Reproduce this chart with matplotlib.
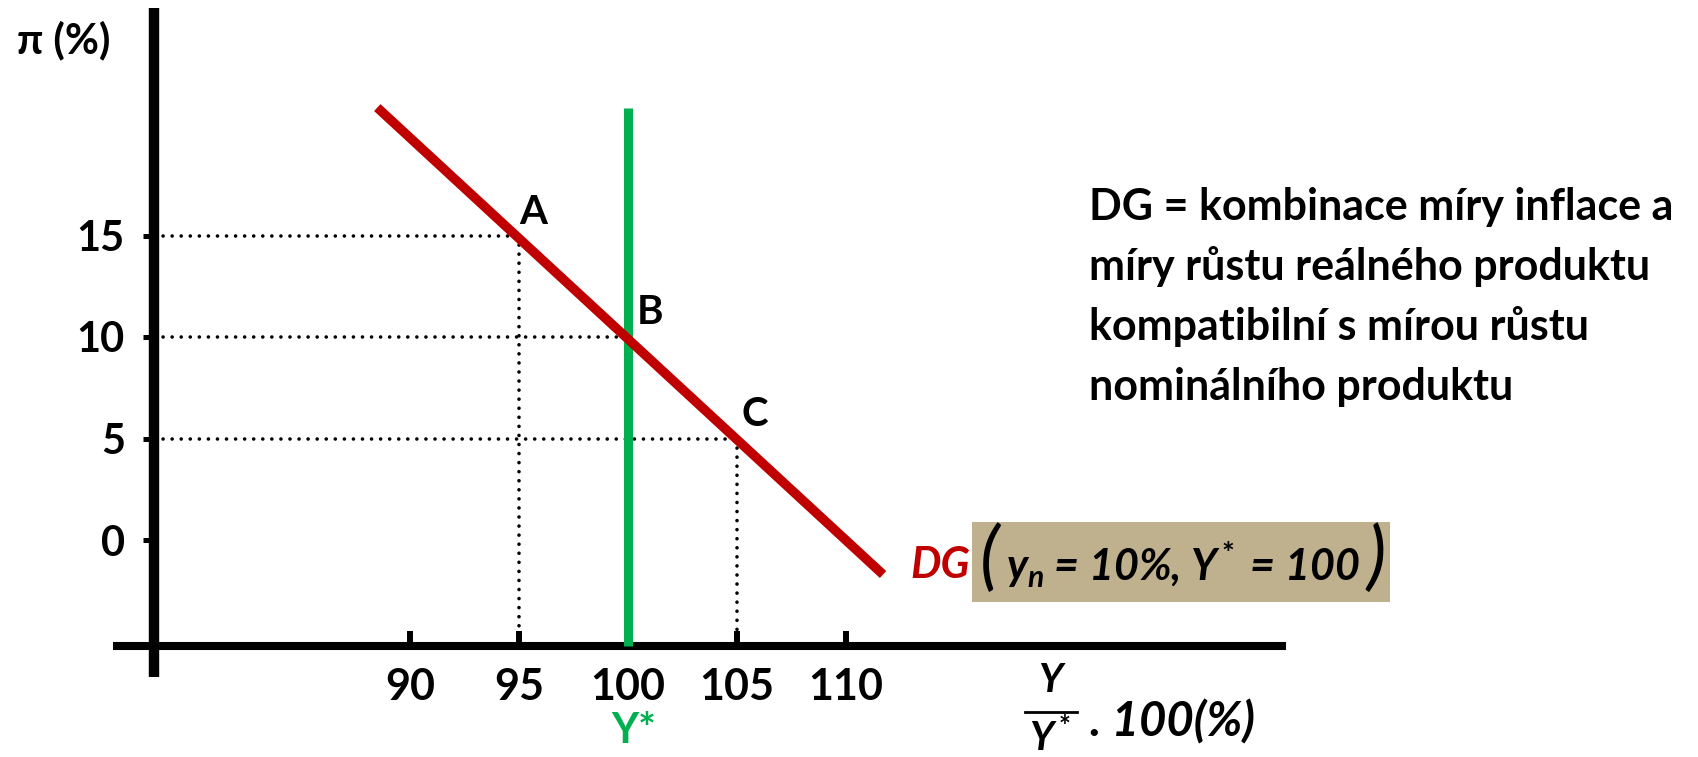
import matplotlib
matplotlib.use('Agg')
import matplotlib.pyplot as plt
from matplotlib.lines import Line2D
from matplotlib.patches import Rectangle

# ---------------- data ----------------
x_ticks = [90, 95, 100, 105, 110]
y_ticks = [0, 5, 10, 15]
point_labels = ['A', 'B', 'C']
point_x = [95, 100, 105]
point_pi = [15, 10, 5]
dg_x = [88.5, 111.7]
dg_pi = [21.3, -1.7]
y_star = 100
y_star_top = 21.3
desc_lines = ["DG = kombinace míry inflace a",
              "míry růstu reálného produktu",
              "kompatibilní s mírou růstu",
              "nominálního produktu"]

# ---------------- style ----------------
plt.rcParams['font.family'] = ['Lato', 'DejaVu Sans']
plt.rcParams['font.weight'] = 'bold'
plt.rcParams['mathtext.fontset'] = 'custom'
plt.rcParams['mathtext.it'] = 'Lato:italic:bold'
plt.rcParams['mathtext.rm'] = 'Lato:bold'
plt.rcParams['mathtext.bf'] = 'Lato:bold'

W, H = 1699, 757
fig = plt.figure(figsize=(W / 100, H / 100), dpi=100)

def F(px, py):
    return (px / W, 1 - py / H)

# pixel geometry of the axes mapping
X100, XPU = 628, 21.8   # pixel of x=100, px per unit
Y10, YPU = 337, 20.3    # pixel of y=10, px per unit

def dx(px):
    return 100 + (px - X100) / XPU

def dy(py):
    return 10 - (py - Y10) / YPU

ax = fig.add_axes([0, 0, 1, 1])
ax.set_xlim(dx(0), dx(W))
ax.set_ylim(dy(H), dy(0))
ax.patch.set_visible(False)

for s in ['top', 'right']:
    ax.spines[s].set_visible(False)
ax.spines['left'].set_position(('data', dx(154)))
ax.spines['left'].set_bounds(dy(677), dy(8))
ax.spines['left'].set_linewidth(7.5)
ax.spines['bottom'].set_position(('data', dy(646)))
ax.spines['bottom'].set_bounds(dx(117), dx(1282))
ax.spines['bottom'].set_linewidth(5.8)
ax.spines['left'].set_capstyle('butt')

ax.set_yticks(y_ticks)
ax.set_yticklabels([str(v) for v in y_ticks], fontsize=30, fontweight='bold')
ax.tick_params(axis='y', direction='out', length=8, width=3.6, pad=13, colors='black')
ax.set_xticks(x_ticks)
ax.set_xticklabels([str(v) for v in x_ticks], fontsize=31, fontweight='bold')
ax.tick_params(axis='x', direction='in', length=10.8, width=4.3, pad=15, colors='black')

# dotted guide lines
ls_dot = (0, (0.01, 2.5))
for px_, py_ in zip(point_x, point_pi):
    ax.plot([dx(154), px_], [py_, py_], color='black', lw=2.6, ls=ls_dot,
            dash_capstyle='round', zorder=2)
    ax.plot([px_, px_], [py_, dy(646)], color='black', lw=2.6, ls=ls_dot,
            dash_capstyle='round', zorder=2)

# Y* line
ax.plot([y_star, y_star], [dy(646), y_star_top], color='#00B050', lw=6.5,
        solid_capstyle='butt', zorder=3)
# DG line
ax.plot(dg_x, dg_pi, color='#C00000', lw=6.8, solid_capstyle='butt', zorder=4)

# point labels
offsets = [(533, 212), (650, 312), (755, 415)]
for lab, (ox, oy) in zip(point_labels, offsets):
    fig.text(*F(ox, oy), lab, fontsize=29, fontweight='bold', ha='center', va='center')

# axis titles
fig.text(*F(64, 40), 'π (%)', fontsize=30, fontweight='bold', ha='center', va='center')
fig.text(*F(634, 731), 'Y*', fontsize=30, fontweight='bold', color='#00B050',
         ha='center', va='center')

# description
for i, line in enumerate(desc_lines):
    fig.text(*F(1089, 220 + 60 * i), line, fontsize=31, fontweight='bold',
             ha='left', va='baseline')

# DG label box
x_a, y_a = F(972, 602)
x_b, y_b = F(1390, 522)
fig.patches.append(Rectangle((x_a, y_a), x_b - x_a, y_b - y_a, transform=fig.transFigure,
                             facecolor='#BFB08E', edgecolor='none', zorder=1))
fig.text(*F(970, 565), 'DG', fontsize=31, fontweight='bold', fontstyle='italic',
         color='#C00000', ha='right', va='center')
inner = fig.text(*F(1006, 565), r'$y_n$ = 10%, Y$^*$ = 100', fontsize=31, fontweight='bold',
                 fontstyle='italic', ha='left', va='center')
fig.canvas.draw()
bb = inner.get_window_extent()
fig.text(*F(990, 559), '(', fontsize=54, fontweight='normal', fontstyle='italic',
         ha='center', va='center')
fig.text((bb.x1 + 16) / W, 1 - 559 / H, ')', fontsize=54, fontweight='normal',
         fontstyle='italic', ha='center', va='center')

# x-axis title (fraction)
fig.text(*F(1050, 681), 'Y', fontsize=29, fontweight='bold', fontstyle='italic',
         ha='center', va='center')
fig.lines.append(Line2D([1025 / W, 1077 / W], [1 - 712 / H, 1 - 712 / H],
                        transform=fig.transFigure, color='black', lw=2))
fig.text(*F(1050, 738), r'Y$^*$', fontsize=29, fontweight='bold', fontstyle='italic',
         ha='center', va='center')
fig.text(*F(1090, 722), '. 100(%)', fontsize=34, fontweight='bold', fontstyle='italic',
         ha='left', va='center')

fig.savefig('out.png', dpi=100)
